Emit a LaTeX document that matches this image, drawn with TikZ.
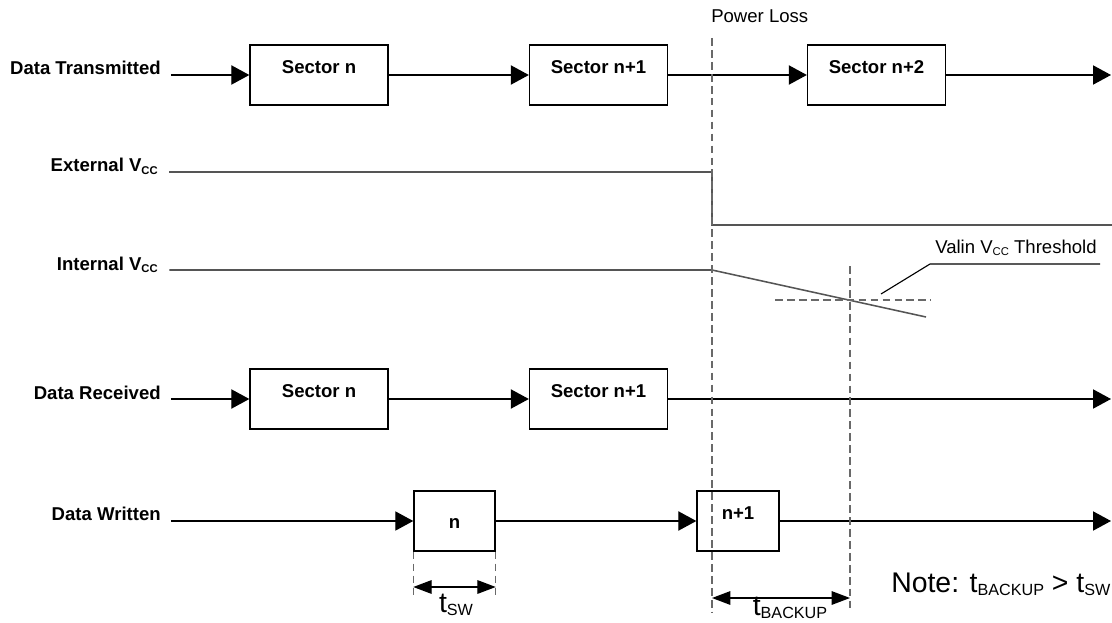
\documentclass[tikz,border=0pt]{standalone}
\usepackage{fontspec}
\setmainfont{Liberation Sans}
\usepackage{tikz}
\usetikzlibrary{arrows.meta,positioning}
\definecolor{vccgray}{RGB}{85,85,85}
\definecolor{guidegray}{RGB}{105,105,105}
\newcommand{\lowsub}[2]{\raisebox{-0.25ex}{\fontsize{#1}{#1}\selectfont #2}}

\begin{document}
\begin{tikzpicture}[x=0.025cm, y=-0.025cm,
    sig/.style={font=\fontsize{13.2}{15}\selectfont\bfseries, anchor=base east, inner sep=0pt},
    plain/.style={font=\fontsize{13.2}{15}\selectfont, anchor=base west, inner sep=0pt},
    secbox/.style={draw, line width=0.9pt, minimum width=3.45cm, minimum height=1.5cm,
        inner sep=0pt, text height=7pt, text depth=9pt, font=\fontsize{13.2}{15}\selectfont\bfseries},
    wbox/.style={secbox, minimum width=2.03cm},
    flow/.style={line width=0.9pt, -{Triangle[length=0.45cm, width=0.48cm]}},
    vcc/.style={line width=1.1pt, vccgray},
    guide/.style={guidegray, line width=0.8pt, dash pattern=on 5.5pt off 3pt},
    dim/.style={line width=0.9pt, {Triangle[length=0.46cm, width=0.34cm]}-{Triangle[length=0.46cm, width=0.34cm]}},
    note/.style={font=\fontsize{20.2}{24}\selectfont, inner sep=0pt}]
    \useasboundingbox (0,0) rectangle (1112,623);

    % Data transmitted
    \node[sig] (txlbl) at (161,75) {Data Transmitted};
    \node[secbox] (tx1) at (319,75) {Sector n};
    \node[secbox] (tx2) at (598.5,75) {Sector n+1};
    \node[secbox] (tx3) at (876.5,75) {Sector n+2};
    \coordinate (tx4) at (1111,75);
    \draw[flow] ([xshift=7pt]txlbl.base east) -- (tx1);
    \draw[flow] (tx1) -- (tx2);
    \draw[flow] (tx2) -- (tx3);
    \draw[flow] (tx3) -- (tx4);

    % External Vcc (drops at power loss)
    \node[sig] (evlbl) at (158,172) {External V\lowsub{8}{CC}};
    \coordinate (ev1) at (712,172);
    \coordinate (ev2) at (1112,225);
    \draw[vcc] ([xshift=8pt]evlbl.base east) -- (ev1) |- (ev2);

    % Internal Vcc (slow decay)
    \node[sig] (ivlbl) at (158,270) {Internal V\lowsub{8}{CC}};
    \coordinate (iv1) at (712,270);
    \coordinate (iv2) at (926,317);
    \draw[vcc] ([xshift=8pt]ivlbl.base east) -- (iv1) -- (iv2);

    % Threshold and its label
    \coordinate (th1) at (775,300);
    \coordinate (th2) at (931,300);
    \draw[guide] (th1) -- (th2);
    \node[plain] (thlbl) at (935,253) {Valin V\lowsub{8}{CC} Threshold};
    \coordinate (ld1) at (881,294);
    \coordinate (ld2) at (930,264);
    \coordinate (ld3) at (1100,264);
    \draw[line width=0.8pt] (ld1) -- (ld2) -- (ld3);

    % Data received
    \node[sig] (rxlbl) at (161,399) {Data Received};
    \node[secbox] (rx1) at (319,399) {Sector n};
    \node[secbox] (rx2) at (598.5,399) {Sector n+1};
    \coordinate (rx3) at (1111,399);
    \draw[flow] ([xshift=7pt]rxlbl.base east) -- (rx1);
    \draw[flow] (rx1) -- (rx2);
    \draw[flow] (rx2) -- (rx3);

    % Data written
    \node[sig] (wrlbl) at (161,520) {Data Written};
    \node[wbox, text height=13pt, text depth=3pt] (wr1) at (454.5,521) {n};
    \node[wbox, text height=6.6pt, text depth=9.4pt, minimum width=2.05cm] (wr2) at (738,521) {n+1};
    \coordinate (wr3) at (1111,521);
    \draw[flow] ([xshift=7pt]wrlbl.base east |- wr1) -- (wr1);
    \draw[flow] (wr1) -- (wr2);
    \draw[flow] (wr2) -- (wr3);

    % Power loss marker
    \node[plain] (pl) at (711,23) {Power Loss};
    \coordinate (pl1) at (712,38);
    \coordinate (pl2) at (712,613);
    \draw[guide] (pl1) -- (pl2);

    % Backup end marker
    \coordinate (bk1) at (850,266);
    \coordinate (bk2) at (850,610);
    \draw[guide] (bk1) -- (bk2);

    % t_SW
    \draw[guide] (wr1.south west) -- ++(0,44);
    \draw[guide] (wr1.south east) -- ++(0,44);
    \draw[dim] (wr1.south west |- 0,587) -- (wr1.south east |- 0,587);
    \node[note, anchor=base] (swlbl) at (456,612) {t\lowsub{11.5}{SW}};

    % t_BACKUP
    \draw[dim] (pl1 |- 0,598) -- (bk1 |- 0,598);
    \node[note, anchor=base] (bklbl) at (790,615) {t\lowsub{11.5}{BACKUP}};

    % Note
    \node[note, anchor=base west] (nt) at (891,592) {Note: t\lowsub{11.5}{BACKUP} > t\lowsub{11.5}{SW}};
\end{tikzpicture}
\end{document}
